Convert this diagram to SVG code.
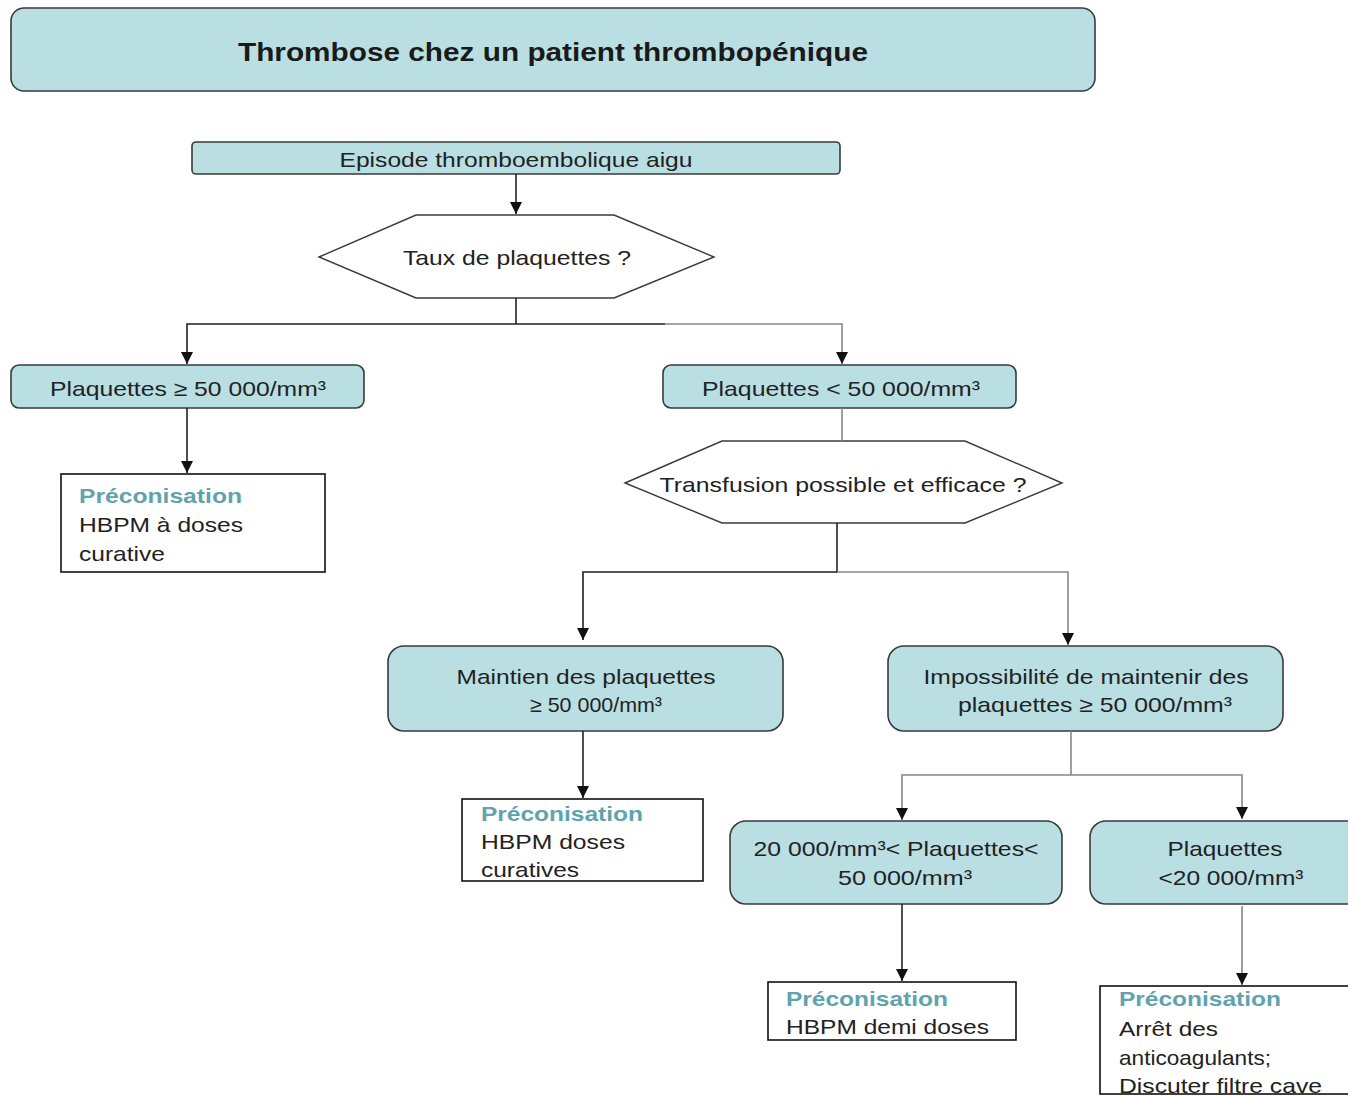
<svg xmlns="http://www.w3.org/2000/svg" width="1348" height="1096" viewBox="0 0 1348 1096">
<style>
.box{fill:#b9dfe2;stroke:#3a3a3a;stroke-width:1.6}
.hex{fill:#ffffff;stroke:#3a3a3a;stroke-width:1.4}
.pre{fill:#ffffff;stroke:#111;stroke-width:1.6}
.t{font-family:"Liberation Sans",Arial,sans-serif;font-size:21px;fill:#222}
.c{text-anchor:middle}
.h{font-family:"Liberation Sans",Arial,sans-serif;font-size:21px;font-weight:bold;fill:#5fa3ad}
.title{font-family:"Liberation Sans",Arial,sans-serif;font-size:25px;font-weight:bold;fill:#1a1a1a;text-anchor:middle}
.ln{fill:none;stroke:#222;stroke-width:1.6}
.lg{fill:none;stroke:#888;stroke-width:1.6}
</style>
<defs>
<marker id="ah" viewBox="0 0 10 10" refX="10" refY="5" markerWidth="7" markerHeight="7" markerUnits="userSpaceOnUse" orient="auto">
<path d="M0,0 L10,5 L0,10 z" fill="#111"/>
</marker>
<marker id="arr" viewBox="0 0 12 12" refX="12" refY="6" markerWidth="13" markerHeight="12" markerUnits="userSpaceOnUse" orient="auto">
<path d="M0,0 L12,6 L0,12 z" fill="#111"/>
</marker>
</defs>
<rect width="1348" height="1096" fill="#ffffff"/>

<g id="title">
<rect class="box" x="11" y="8" width="1084" height="83" rx="13"/>
<text class="title" x="553" y="61" textLength="630" lengthAdjust="spacingAndGlyphs">Thrombose chez un patient thrombopénique</text>
</g>

<g id="episode">
<rect class="box" x="192" y="142" width="648" height="32" rx="4"/>
<text class="t c" x="516" y="167" textLength="353" lengthAdjust="spacingAndGlyphs">Episode thromboembolique aigu</text>
</g>

<g id="taux">
<polygon class="hex" points="319,257 416,215 614,215 714,257 614,298 416,298"/>
<text class="t c" x="517" y="265" textLength="228" lengthAdjust="spacingAndGlyphs">Taux de plaquettes ?</text>
</g>

<g id="plaq-ge50">
<rect class="box" x="11" y="365" width="353" height="43" rx="8"/>
<text class="t c" x="188" y="396" textLength="276" lengthAdjust="spacingAndGlyphs">Plaquettes ≥ 50 000/mm³</text>
</g>

<g id="plaq-lt50">
<rect class="box" x="663" y="365" width="353" height="43" rx="8"/>
<text class="t c" x="841" y="396" textLength="278" lengthAdjust="spacingAndGlyphs">Plaquettes &lt; 50 000/mm³</text>
</g>

<g id="preco1">
<rect class="pre" x="61" y="474" width="264" height="98"/>
<text class="h" x="79" y="503" textLength="163" lengthAdjust="spacingAndGlyphs">Préconisation</text>
<text class="t" x="79" y="532" textLength="164" lengthAdjust="spacingAndGlyphs">HBPM à doses</text>
<text class="t" x="79" y="561" textLength="86" lengthAdjust="spacingAndGlyphs">curative</text>
</g>

<g id="transfusion">
<polygon class="hex" points="625,483 722,441 965,441 1062,483 965,523 722,523"/>
<text class="t c" x="843" y="492" textLength="367" lengthAdjust="spacingAndGlyphs">Transfusion possible et efficace ?</text>
</g>

<g id="maintien">
<rect class="box" x="388" y="646" width="395" height="85" rx="16"/>
<text class="t c" x="586" y="684" textLength="259" lengthAdjust="spacingAndGlyphs">Maintien des plaquettes</text>
<text class="t c" x="596" y="712" textLength="132" lengthAdjust="spacingAndGlyphs">≥ 50 000/mm³</text>
</g>

<g id="impossibilite">
<rect class="box" x="888" y="646" width="395" height="85" rx="16"/>
<text class="t c" x="1086" y="684" textLength="325" lengthAdjust="spacingAndGlyphs">Impossibilité de maintenir des</text>
<text class="t c" x="1095" y="712" textLength="274" lengthAdjust="spacingAndGlyphs">plaquettes ≥ 50 000/mm³</text>
</g>

<g id="preco2">
<rect class="pre" x="462" y="799" width="241" height="82"/>
<text class="h" x="481" y="821" textLength="162" lengthAdjust="spacingAndGlyphs">Préconisation</text>
<text class="t" x="481" y="849" textLength="144" lengthAdjust="spacingAndGlyphs">HBPM doses</text>
<text class="t" x="481" y="877" textLength="98" lengthAdjust="spacingAndGlyphs">curatives</text>
</g>

<g id="plaq-20-50">
<rect class="box" x="730" y="821" width="332" height="83" rx="16"/>
<text class="t c" x="896" y="856" textLength="285" lengthAdjust="spacingAndGlyphs">20 000/mm³&lt; Plaquettes&lt;</text>
<text class="t c" x="905" y="885" textLength="134" lengthAdjust="spacingAndGlyphs">50 000/mm³</text>
</g>

<g id="plaq-lt20">
<rect class="box" x="1090" y="821" width="275" height="83" rx="16"/>
<text class="t c" x="1225" y="856" textLength="115" lengthAdjust="spacingAndGlyphs">Plaquettes</text>
<text class="t c" x="1231" y="885" textLength="145" lengthAdjust="spacingAndGlyphs">&lt;20 000/mm³</text>
</g>

<g id="preco3">
<rect class="pre" x="768" y="982" width="248" height="58"/>
<text class="h" x="786" y="1006" textLength="162" lengthAdjust="spacingAndGlyphs">Préconisation</text>
<text class="t" x="786" y="1034" textLength="203" lengthAdjust="spacingAndGlyphs">HBPM demi doses</text>
</g>

<g id="preco4">
<rect class="pre" x="1100" y="986" width="265" height="108"/>
<text class="h" x="1119" y="1006" textLength="162" lengthAdjust="spacingAndGlyphs">Préconisation</text>
<text class="t" x="1119" y="1036" textLength="99" lengthAdjust="spacingAndGlyphs">Arrêt des</text>
<text class="t" x="1119" y="1065" textLength="152" lengthAdjust="spacingAndGlyphs">anticoagulants;</text>
<text class="t" x="1119" y="1093" textLength="203" lengthAdjust="spacingAndGlyphs">Discuter filtre cave</text>
</g>

<g id="connectors">
<line class="ln" x1="516" y1="174" x2="516" y2="214" marker-end="url(#arr)"/>
<polyline class="ln" points="516,298 516,324"/>
<polyline class="ln" points="665,324 187,324 187,364" marker-end="url(#arr)"/>
<polyline class="lg" points="665,324 842,324 842,364" marker-end="url(#arr)"/>
<line class="ln" x1="187" y1="408" x2="187" y2="473" marker-end="url(#arr)"/>
<line class="lg" x1="842" y1="408" x2="842" y2="441"/>
<line class="ln" x1="837" y1="523" x2="837" y2="573"/>
<polyline class="lg" points="837,572 1068,572 1068,645" marker-end="url(#arr)"/>
<polyline class="ln" points="837,572 583,572 583,640" marker-end="url(#arr)"/>
<line class="ln" x1="583" y1="731" x2="583" y2="798" marker-end="url(#arr)"/>
<line class="lg" x1="1071" y1="731" x2="1071" y2="775"/>
<polyline class="lg" points="1071,775 902,775 902,820" marker-end="url(#arr)"/>
<polyline class="lg" points="1071,775 1242,775 1242,819" marker-end="url(#arr)"/>
<line class="ln" x1="902" y1="904" x2="902" y2="981" marker-end="url(#arr)"/>
<line class="lg" x1="1242" y1="906" x2="1242" y2="985" marker-end="url(#arr)"/>
</g>
</svg>
